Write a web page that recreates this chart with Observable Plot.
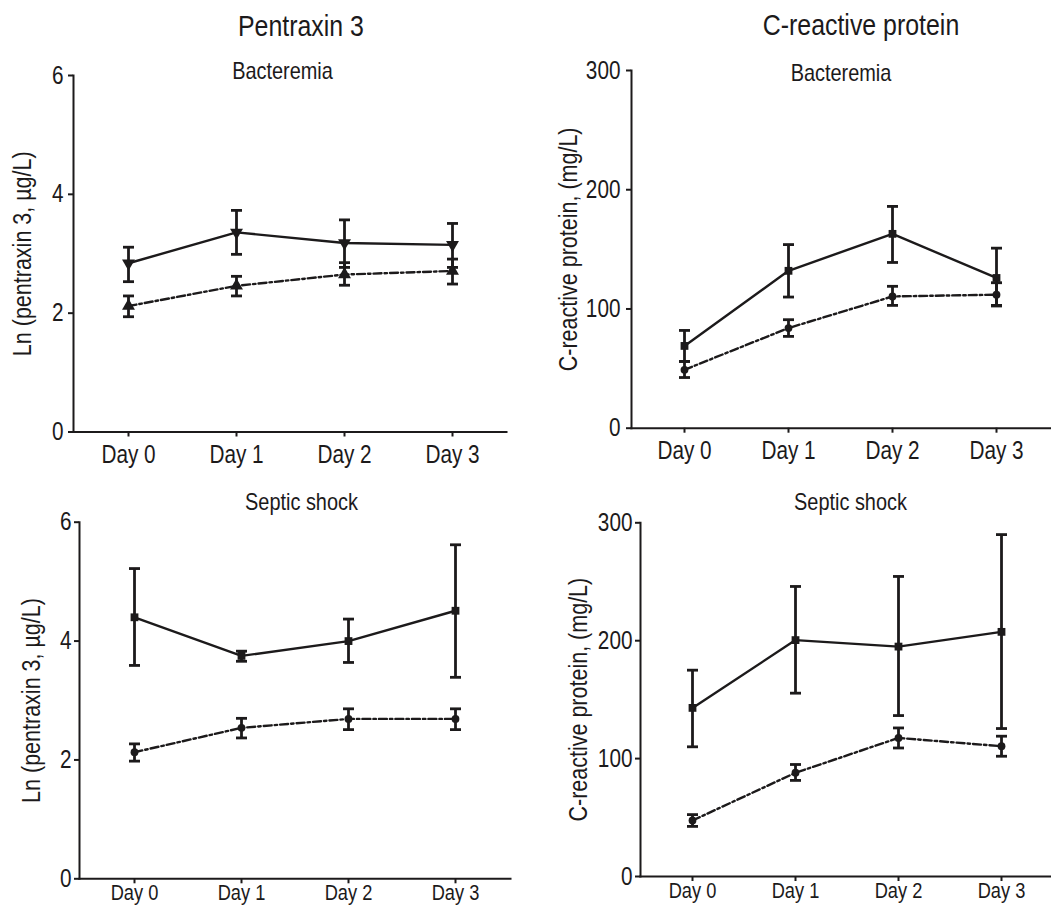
<!DOCTYPE html>
<html><head><meta charset="utf-8">
<script src="https://cdn.jsdelivr.net/npm/d3@7"></script>
<script src="https://cdn.jsdelivr.net/npm/@observablehq/plot@0.6"></script>
<style>
html,body{margin:0;padding:0;background:#fff;width:1051px;height:905px;overflow:hidden;}
#root{position:relative;width:1051px;height:905px;overflow:hidden;background:#fff;}
.panel{position:absolute;}
.panel svg{max-width:none;}
</style></head><body><div id="root"></div>
<script>
// ---- data ----
const days = ["Day 0", "Day 1", "Day 2", "Day 3"];

const ptxTicks = [0, 2, 4, 6];
const crpTicks = [0, 100, 200, 300];

// Pentraxin 3 – Bacteremia
const ptxBactSolidMean = [2.84, 3.36, 3.18, 3.15];
const ptxBactSolidLo   = [2.53, 2.99, 2.77, 2.77];
const ptxBactSolidHi   = [3.11, 3.73, 3.57, 3.51];
const ptxBactDashMean  = [2.12, 2.46, 2.65, 2.71];
const ptxBactDashLo    = [1.94, 2.29, 2.47, 2.49];
const ptxBactDashHi    = [2.29, 2.62, 2.85, 2.91];

// C-reactive protein – Bacteremia
const crpBactSolidMean = [69, 132, 163, 126];
const crpBactSolidLo   = [56, 110, 139, 103];
const crpBactSolidHi   = [82, 154, 186, 151];
const crpBactDashMean  = [49, 84, 110.5, 112];
const crpBactDashLo    = [42.5, 77, 103, 102.5];
const crpBactDashHi    = [56, 91, 119, 122];

// Pentraxin 3 – Septic shock
const ptxShockSolidMean = [4.40, 3.75, 4.00, 4.51];
const ptxShockSolidLo   = [3.59, 3.66, 3.64, 3.39];
const ptxShockSolidHi   = [5.22, 3.83, 4.37, 5.62];
const ptxShockDashMean  = [2.13, 2.54, 2.69, 2.69];
const ptxShockDashLo    = [1.98, 2.37, 2.51, 2.51];
const ptxShockDashHi    = [2.27, 2.70, 2.86, 2.86];

// C-reactive protein – Septic shock
const crpShockSolidMean = [143, 200.5, 195, 207.5];
const crpShockSolidLo   = [110, 155.5, 136.5, 125.5];
const crpShockSolidHi   = [175, 246, 254.5, 290];
const crpShockDashMean  = [47.5, 88, 117.5, 110.5];
const crpShockDashLo    = [42.5, 81.5, 109, 102];
const crpShockDashHi    = [52.5, 95, 126, 119];

const titles = ["Pentraxin 3", "C-reactive protein"];
const subtitles = ["Bacteremia", "Septic shock"];
const yLabels = ["Ln (pentraxin 3, \u00b5g/L)", "C-reactive protein, (mg/L)"];

// ---- drawing ----
const FONT = '"Liberation Sans", Arial, sans-serif';
const INK = "#1c1a1b";

const triangleDown = {
  draw(context, size) {
    const y = -Math.sqrt(size / (Math.sqrt(3) * 3));
    context.moveTo(0, -y * 2);
    context.lineTo(-Math.sqrt(3) * y, y);
    context.lineTo(Math.sqrt(3) * y, y);
    context.closePath();
  }
};
// horizontal error-bar cap, half-width = r
const capSymbol = {
  draw(context, size) {
    const w = Math.sqrt(size / Math.PI);
    context.moveTo(-w, 0);
    context.lineTo(w, 0);
  }
};

function rows(mean, lo, hi) {
  return days.map((d, i) => ({day: d, mean: mean[i], lo: lo[i], hi: hi[i]}));
}

function seriesMarks(data, {dash, symbol, r}) {
  return [
    Plot.line(data, {x: "day", y: "mean", stroke: INK, strokeWidth: 2.4, strokeDasharray: dash}),
    Plot.ruleX(data, {x: "day", y1: "lo", y2: "hi", stroke: INK, strokeWidth: 2.8}),
    Plot.dot(data, {x: "day", y: "lo", symbol: capSymbol, r: 5.5, fill: "none", stroke: INK, strokeWidth: 2.8}),
    Plot.dot(data, {x: "day", y: "hi", symbol: capSymbol, r: 5.5, fill: "none", stroke: INK, strokeWidth: 2.8}),
    Plot.dot(data, {x: "day", y: "mean", symbol, r, fill: INK, stroke: null})
  ];
}

function panel(p) {
  const chart = Plot.plot({
    width: p.width, height: p.height,
    marginLeft: p.ml, marginRight: p.mr, marginTop: p.mt, marginBottom: p.mb,
    style: {fontFamily: FONT, fontSize: "25px", color: INK, background: "transparent", overflow: "visible"},
    x: {type: "point", domain: days, padding: 0.5},
    y: {domain: [p.yTicks[0], p.yTicks[p.yTicks.length - 1]]},
    marks: [
      Plot.frame({anchor: "left", stroke: INK, strokeWidth: 2}),
      Plot.frame({anchor: "bottom", stroke: INK, strokeWidth: 2}),
      Plot.axisY({ticks: p.yTicks, tickSize: 5, tickPadding: p.ytp, strokeWidth: 2,
                  label: p.yLabel, labelAnchor: "center", labelArrow: "none", labelOffset: p.lo,
                  tickFormat: d => String(d)}),
      Plot.axisX({tickSize: 5, tickPadding: p.xtp, strokeWidth: 2, label: null, fontSize: p.xfs}),
      ...seriesMarks(p.solid, {dash: null, symbol: p.solidSymbol, r: p.solidR}),
      ...seriesMarks(p.dashed, {dash: "8,3,2.5,3", symbol: p.dashSymbol, r: p.dashR})
    ]
  });
  const div = document.createElement("div");
  div.className = "panel";
  div.style.left = p.left + "px";
  div.style.top = p.top + "px";
  div.style.width = p.width + "px";
  div.style.height = p.height + "px";
  div.appendChild(chart);
  document.getElementById("root").appendChild(div);
}

panel({left: 0, top: 0, width: 520, height: 480, ml: 73, mr: 14, mt: 75, mb: 48.5,
  yTicks: ptxTicks, yLabel: yLabels[0], lo: 60, xtp: 8, ytp: 5, xfs: 25,
  solid: rows(ptxBactSolidMean, ptxBactSolidLo, ptxBactSolidHi), solidSymbol: triangleDown, solidR: 4.8,
  dashed: rows(ptxBactDashMean, ptxBactDashLo, ptxBactDashHi), dashSymbol: "triangle", dashR: 4.8});

panel({left: 520, top: 0, width: 531, height: 470, ml: 111, mr: 1.4, mt: 70, mb: 42.3,
  yTicks: crpTicks, yLabel: yLabels[1], lo: 72, xtp: 8, ytp: 6, xfs: 25,
  solid: rows(crpBactSolidMean, crpBactSolidLo, crpBactSolidHi), solidSymbol: "square", solidR: 4.4,
  dashed: rows(crpBactDashMean, crpBactDashLo, crpBactDashHi), dashSymbol: "circle", dashR: 3.9});

panel({left: 0, top: 450, width: 520, height: 455, ml: 79, mr: 10, mt: 71.7, mb: 26.7,
  yTicks: ptxTicks, yLabel: yLabels[0], lo: 57, xtp: 1, ytp: 3, xfs: 22,
  solid: rows(ptxShockSolidMean, ptxShockSolidLo, ptxShockSolidHi), solidSymbol: "square", solidR: 4.4,
  dashed: rows(ptxShockDashMean, ptxShockDashLo, ptxShockDashHi), dashSymbol: "circle", dashR: 3.9});

panel({left: 520, top: 450, width: 533, height: 455, ml: 120, mr: 0, mt: 72.3, mb: 29,
  yTicks: crpTicks, yLabel: yLabels[1], lo: 71, xtp: 1, ytp: 3, xfs: 22,
  solid: rows(crpShockSolidMean, crpShockSolidLo, crpShockSolidHi), solidSymbol: "square", solidR: 4.4,
  dashed: rows(crpShockDashMean, crpShockDashLo, crpShockDashHi), dashSymbol: "circle", dashR: 3.9});

// titles and subtitles
const overlay = d3.select("#root").append("svg")
  .attr("width", 1051).attr("height", 905)
  .style("position", "absolute").style("left", 0).style("top", 0)
  .style("pointer-events", "none")
  .attr("font-family", FONT).attr("fill", INK).attr("text-anchor", "middle");
overlay.append("text").attr("x", 301).attr("y", 35.5).attr("font-size", 30).text(titles[0]);
overlay.append("text").attr("x", 861).attr("y", 35).attr("font-size", 30).text(titles[1]);
overlay.append("text").attr("x", 282.5).attr("y", 79).attr("font-size", 24).text(subtitles[0]);
overlay.append("text").attr("x", 841).attr("y", 81).attr("font-size", 24).text(subtitles[0]);
overlay.append("text").attr("x", 301.5).attr("y", 510).attr("font-size", 24).text(subtitles[1]);
overlay.append("text").attr("x", 850.5).attr("y", 510).attr("font-size", 24).text(subtitles[1]);

// condense the glyphs horizontally (the reference uses a condensed face)
document.querySelectorAll("#root text").forEach(t => {
  const s = t.textContent;
  const ratio = (s === yLabels[0] || s === yLabels[1]) ? 0.86 : 0.83;
  const w = t.getComputedTextLength();
  if (w > 0) {
    t.setAttribute("textLength", (w * ratio).toFixed(2));
    t.setAttribute("lengthAdjust", "spacingAndGlyphs");
  }
});
</script>
</body></html>
